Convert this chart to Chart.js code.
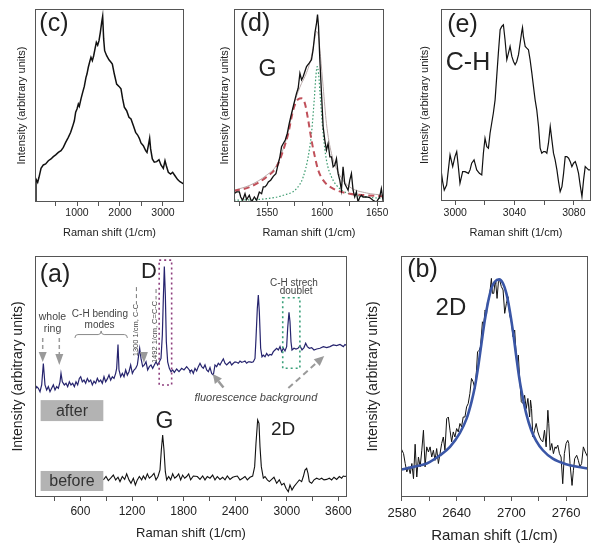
<!DOCTYPE html>
<html><head><meta charset="utf-8">
<script src="https://cdn.jsdelivr.net/npm/chart.js@4.4.1/dist/chart.umd.min.js"></script>
<style>
html,body{margin:0;padding:0;background:#fff;}
#wrap{position:relative;width:601px;height:548px;overflow:hidden;background:#fff;}
canvas{position:absolute;}
</style></head><body><div id="wrap">
<canvas id="pc"></canvas><canvas id="pd"></canvas><canvas id="pe"></canvas><canvas id="pa"></canvas><canvas id="pb"></canvas>
</div>
<script>
// ---------- DATA ----------
// (c) wide-range spectrum
const cX = [23,46,85,116,163,217,271,333,395,449,504,566,628,682,736,798,853,899,938,969,1000,1031,1054,1093,1132,1170,1209,1232,1263,1302,1325,1357,1388,1419,1450,1481,1512,1543,1574,1597,1620,1643,1690,1744,1791,
  1822,1868,1922,1977,2023,2062,2101,2155,2209,2256,2310,2364,2411,2450,2488,2543,2597,2628,2659,2690,2713,2752,2798,2853,2907,2953,3008,3047,3078,3124,3178,3225,3279,3341,3395,3450,3489];
const cY = [0.7,11.9,10.2,12.8,17.4,19.2,19.7,21.4,22.3,23.5,24.4,25.7,26.6,28.3,30.9,33.5,36.1,39.2,42.1,46.5,48.2,50.8,49.6,53.4,56.8,59.9,64.6,66.3,69.8,73.2,75.0,73.2,75.8,79.3,82.7,81.3,83.6,87.9,93.1,96.2,84.5,78.4,75.8,73.7,72.4,
  71.5,66.3,61.1,59.9,58.6,53.4,49.1,47.3,43.9,43.0,39.6,36.1,34.7,33.0,30.6,29.2,26.6,25.7,29.2,33.0,27.5,22.3,20.6,20.9,21.9,19.2,17.4,21.4,18.8,15.4,14.5,15.4,13.6,11.6,10.5,9.8,9.3];
// (d) G band
const dX = [1520.0,1522.4,1524.9,1526.1,1527.9,1530.0,1531.5,1533.9,1536.0,1538.5,1540.6,1543.0,1545.1,1546.6,1548.1,1549.6,1551.2,1553.3,1555.7,1558.1,1560.2,1561.7,1563.2,1564.8,1566.6,1568.4,1570.2,1572.3,1573.8,1575.3,1576.8,1578.3,1579.9,1581.4,1582.9,1584.4,1585.9,1588.3,1590.4,1591.9,1593.5,1595.0,1595.9,1596.8,1598.0,1599.5,1601.0,1602.5,1604.0,1605.5,1607.1,1608.6,1610.1,1611.6,1613.1,1614.6,1616.1,1617.6,1619.1,1620.6,1622.2,1623.7,1625.2,1626.7,1628.2,1629.7,1631.2,1632.7,1634.3,1635.8,1637.3,1640.3,1643.3,1646.3,1649.4,1652.4,1653.9,1655.4,1656.3];
const dY = [4.3,5.2,5.2,2.6,0.9,4.3,1.2,3.5,0,2.6,0.9,5.2,4.3,7.8,7.8,8.7,10.4,11.3,13.3,14.7,19.9,23.4,28.6,30.3,32.1,35.5,40.7,45.9,49.4,52.9,56.3,58.9,66.7,63.3,65,67.6,70.2,71.9,73.7,78.9,87.5,92.7,97.1,91,73.7,56.3,39,32.1,26.9,30.3,23.4,23.4,18.2,19.1,22.5,14.7,11.3,6.1,18.2,9.5,7.8,6.1,11.3,14.7,6.1,2.6,5.2,0,2.6,3.5,2.6,2.6,2.3,0.9,0,2.6,6.9,0.9,1.7];
const dRedX = [1520,1534.5,1549.6,1558.7,1564.8,1569.3,1573.8,1578.3,1581.4,1584.4,1587.4,1590.4,1593.5,1596.5,1601,1610.1,1625.2,1640.3,1656.3];
const dRedY = [5.7,7.8,13,18.2,26.9,35.5,47.7,53.2,53.7,51.1,42.5,32.1,23.4,16.5,11.3,6.9,4.3,3.5,2.9];
const dGreenX = [1520,1549.6,1564.8,1576.8,1582.9,1587.4,1590.4,1592.9,1594.4,1595.6,1596.8,1598.6,1601,1604,1608.6,1616.1,1631.2,1656.3];
const dGreenY = [0.9,1.7,3.5,6.9,13,23.4,35.5,52.9,65,70.2,66.7,52.9,35.5,21.7,13,6.9,3.5,1.7];
const dSumX = [1520,1534.5,1549.6,1558.7,1564.8,1569.3,1573.8,1578.3,1581.4,1584.4,1587.4,1590.4,1592.9,1595,1596.8,1598.6,1601,1604,1608.6,1616.1,1625.2,1640.3,1656.3];
const dSumY = [6.1,8.7,13.9,19.1,27.7,36.4,49,57.2,61.5,65,69.3,75.4,83.2,88.4,85.8,75.4,59.8,40.7,25.1,13.9,7.8,4.7,3.5];
// (e) C-H
const eX = [2990.4,2991.5,2992.6,2994.2,2996.5,2998.3,2999.8,3001.0,3002.1,3003.2,3005.0,3006.6,3008.9,3010.0,3011.1,3012.7,3014.5,3016.3,3017.9,3019.0,3020.1,3021.3,3022.4,3023.5,3024.6,3025.7,3026.9,3028.0,3029.1,3030.3,3031.4,3032.5,3033.6,3034.8,3035.9,3037.0,3038.2,3039.3,3040.4,3041.5,3042.7,3043.8,3044.9,3045.4,3046.0,3047.2,3048.3,3049.4,3050.5,3051.7,3052.8,3053.9,3055.0,3056.2,3057.3,3058.4,3059.6,3060.7,3061.8,3062.9,3064.1,3065.2,3066.3,3067.4,3068.6,3069.7,3070.8,3072.0,3073.1,3074.2,3075.3,3076.5,3077.6,3078.7,3079.8,3081.0,3082.1,3083.2,3084.3,3085.5,3086.6,3087.7,3088.9,3090.0,3091.6];
const eY = [16.2,10.1,5.7,8.3,24.0,17.9,23.1,25.7,17.9,9.2,15.3,15.3,14.4,16.2,19.7,21.4,16.2,14.4,13.6,24.9,32.7,28.3,27.5,35.3,40.5,45.7,52.7,64.9,77.0,89.2,90.9,91.8,84.0,73.6,77.0,80.5,75.3,72.7,71.0,72.7,76.2,82.3,88.3,90.4,85.7,80.5,79.6,78.8,73.6,66.6,59.6,52.7,47.5,38.8,27.5,24.9,25.7,25.7,24.9,30.1,38.8,31.8,24.9,21.4,16.2,10.1,4.9,7.5,14.4,23.1,23.1,22.3,20.5,17.9,19.7,20.5,17.9,14.4,8.3,2.3,11.0,17.9,17.0,16.2,16.2];
// (a) after / before
const aAfterX = [72.0,91.4,110.8,130.2,149.6,169.0,188.3,207.7,227.1,246.5,265.8,285.2,304.6,324.0,343.4,362.7,374.4,389.9,413.1,432.5,451.9,471.3,490.6,510.0,529.4,548.8,568.2,587.5,603.1,622.4,641.8,661.2,680.6,700.0,719.3,738.7,758.1,777.5,796.9,816.2,835.6,855.0,874.4,893.8,913.1,932.5,951.9,971.3,990.7,1010.0,1021.7,1037.2,1048.8,1068.2,1087.6,1107.0,1126.3,1145.7,1165.1,1184.5,1203.8,1223.2,1242.6,1262.0,1277.5,1289.1,1304.6,1324.0,1343.4,1362.7,1382.1,1401.5,1420.9,1440.3,1459.6,1479.0,1498.4,1517.8,1537.2,1552.7,1564.3,1575.9,1587.6,1599.2,1614.7,1634.1,1653.4,1672.8,1692.2,1719.3,1746.5,1777.5,1804.6,1835.6,1866.6,
  1874.3,1893.7,1913.1,1932.4,1951.8,1971.2,1990.6,2010.0,2029.3,2048.7,2068.1,2087.5,2106.9,2126.2,2145.6,2165.0,2184.4,2203.8,2223.1,2242.5,2261.9,2281.3,2300.7,2320.0,2339.4,2358.8,2378.2,2397.6,2416.9,2436.3,2455.7,2475.1,2494.5,2513.8,2533.2,2552.6,2572.0,2591.4,2610.7,2630.1,2641.8,2657.3,2668.9,2680.5,2696.0,2711.5,2727.0,2746.4,2765.8,2785.2,2804.5,2823.9,2843.3,2862.7,2882.1,2901.4,2920.8,2940.2,2959.6,2979.0,2998.3,3010.0,3025.5,3037.1,3048.7,3060.4,3083.6,3106.9,3130.1,3153.4,3176.6,3199.9,3219.3,3238.7,3261.9,3289.0,3316.2,3347.2,3385.9,3424.7,3463.5,3502.2,3541.0,3579.7,3618.5,3657.3,3676.6,3700];
const aAfterY = [44.4,45.8,45.1,43.7,46.5,55.4,46.5,44.4,45.8,43.7,45.1,46.5,44.4,45.8,45.1,47.8,51.3,47.8,46.5,47.2,45.8,47.8,46.5,47.2,45.8,47.8,46.5,49.2,49.9,47.8,48.5,47.2,49.2,47.8,48.5,46.5,48.1,47.2,49.2,47.8,48.5,47.2,49.9,47.8,49.0,50.6,48.5,49.9,49.2,51.3,53.4,63.3,52.7,49.9,51.3,49.9,52.7,50.6,52.0,54.8,51.3,52.7,53.4,54.8,58.9,61.7,57.5,54.1,54.8,56.1,52.7,54.1,54.8,53.4,54.8,56.1,54.8,56.1,57.5,67.2,82.4,95.6,83.8,64.4,56.1,53.4,52.0,52.7,51.7,53.1,52.0,53.4,52.7,54.1,52.7,
  52.0,52.7,51.3,53.4,52.3,54.1,55.5,54.1,53.4,54.8,52.7,52.0,53.7,51.3,50.6,54.8,54.1,55.5,54.8,56.1,57.3,55.5,54.8,55.5,56.1,54.8,55.5,56.1,55.9,55.5,56.4,55.9,56.1,56.4,55.5,56.1,56.1,55.9,56.1,57.5,65.8,78.3,83.8,76.9,61.7,58.2,58.9,58.2,59.6,58.6,59.2,58.9,60.3,61.0,61.7,61.0,62.4,60.3,61.7,60.6,62.4,70.0,76.6,72.7,64.4,61.0,61.7,61.4,61.7,62.8,61.0,62.0,63.8,62.4,61.7,62.0,61.0,61.4,61.7,62.4,62.0,62.4,63.1,62.8,63.3,62.4,63.3,62.8];
const aBeforeX = [866.6,897.6,924.7,951.8,983.0,1010.0,1037.1,1060.4,1087.5,1114.6,1137.9,1165.0,1188.3,1215.4,1238.7,1262.0,1285.2,1312.3,1331.7,1355.0,1378.2,1401.4,1428.6,1455.7,1478.9,1502.2,1525.5,1541.0,1556.5,1572.0,1587.5,1603.0,1626.3,1649.5,1672.8,1696.0,1719.3,1742.5,1765.8,1789.0,1812.3,1835.6,1858.8,1882.1,1913.1,
  1959.6,1990.6,2021.6,2048.7,2075.8,2106.8,2137.8,2165.0,2192.1,2223.1,2254.1,2281.3,2308.4,2339.4,2370.4,2397.5,2424.7,2455.7,2486.7,2513.8,2541.0,2572.0,2603.0,2626.2,2641.7,2661.1,2676.6,2688.2,2703.7,2727.0,2746.4,2773.5,2796.8,2823.9,2851.0,2882.0,2913.0,2940.2,2967.3,2990.6,3017.7,3037.1,3060.3,3083.6,3114.6,3145.6,3172.7,3192.1,3211.5,3230.9,3246.4,3261.9,3289.0,3316.2,3347.2,3378.2,3405.3,3432.4,3463.4,3494.4,3521.6,3548.7,3579.7,3610.7,3637.9,3657.2,3676.6,3696.0];
const aBeforeY = [7.1,8.5,6.8,7.8,9.1,7.1,8.2,6.4,8.5,7.3,9.6,7.1,5.7,7.8,5.0,7.1,8.5,7.1,8.7,7.4,9.6,7.8,8.7,9.8,7.1,8.5,11.2,19.5,25.7,19.5,10.5,7.1,8.5,7.1,9.6,7.8,8.5,9.6,7.1,9.1,7.8,8.5,9.6,7.1,8.7,
  8.5,7.3,8.7,7.1,8.5,7.8,9.1,7.1,8.5,7.3,8.2,7.1,8.7,7.3,8.2,8.5,8.7,7.1,7.8,8.5,7.1,8.2,8.7,12.6,22.3,32.0,30.6,20.9,12.6,7.8,8.5,7.1,6.4,7.3,8.2,5.7,7.1,5.0,5.7,3.6,2.2,5.0,2.9,4.3,5.7,7.1,6.4,8.5,11.2,11.9,9.8,6.4,5.7,7.1,7.8,7.3,7.8,7.1,7.3,7.8,7.1,8.2,7.3,8.5,7.8,8.7,8.5,8.7];
// (b) 2D band
const bX = [2579.2,2581.8,2583.6,2585.4,2587.2,2589.1,2590.9,2592.7,2594.5,2596.3,2598.1,2600.0,2601.8,2603.6,2605.4,2607.2,2609.1,2610.9,2612.7,2614.5,2616.3,2618.1,2620.0,2621.8,2623.6,2625.4,2627.2,2629.1,2630.9,2632.7,2634.5,2636.3,2638.1,2640.0,2641.8,2643.6,2645.4,2647.2,2649.1,2650.9,2652.7,2654.5,2656.3,2658.1,2660.0,2661.8,2662.9,2664.7,2666.1,2668.3,2669.8,2671.2,2672.7,2673.8,2675.2,2676.3,2678.1,2679.2,2680.7,2682.1,2682.9,2684.3,2685.8,2687.2,2689.0,2690.9,2692.7,2694.5,2696.3,2698.1,2700.0,2701.8,2703.6,2705.4,2706.5,2707.6,2709.0,2710.9,2712.7,2714.5,2716.3,2718.1,2720.0,2721.0,2722.1,2723.6,2725.4,2727.2,2729.0,2730.9,2732.7,2734.5,2736.3,2738.1,2740.0,2741.0,2742.5,2744.3,2746.1,2747.9,2749.0,2750.9,2752.7,2754.5,2756.3,2758.1,2760.0,2761.8,2762.9,2764.3,2766.5,2768.0,2769.4,2771.6,2773.4,2775.2,2777.0,2778.9,2781.0,2783.6];
const bY = [20.1,18.0,13.9,10.4,12.5,9.7,13.9,7.6,21.9,8.3,16.6,12.5,19.4,27.7,12.5,20.8,18.7,20.8,16.6,19.4,15.2,20.1,13.9,18.0,22.2,24.9,19.4,32.5,33.2,27.7,22.9,27.0,24.9,28.4,27.0,30.5,29.1,33.2,33.2,37.4,38.8,42.9,49.2,47.8,45.0,52.6,60.2,60.9,62.3,72.7,72.0,77.6,75.5,81.0,81.7,84.5,90.7,84.5,84.5,89.3,88.6,82.4,89.3,90.0,87.3,85.9,76.2,80.3,83.1,75.5,72.7,66.5,69.3,58.2,55.4,58.9,49.9,39.5,38.8,42.2,36.7,40.9,33.2,40.2,36.7,24.9,27.7,30.5,27.0,24.9,23.5,22.9,27.7,20.8,36.0,30.5,19.4,22.2,18.0,20.8,20.1,21.5,18.0,16.6,5.5,18.0,22.2,23.5,22.2,13.9,4.8,11.1,15.9,17.3,15.2,12.5,13.9,20.8,18.7,16.6];
const bFitX = [2579.2,2592.7,2607.2,2621.8,2632.7,2643.6,2650.9,2656.3,2660.0,2663.6,2667.2,2670.9,2674.5,2678.1,2681.8,2686.5,2690.9,2694.5,2698.1,2701.8,2705.4,2709.0,2712.7,2716.3,2721.8,2727.2,2734.5,2745.4,2760.0,2783.6];
const bFitY = [11.4,12.5,13.9,17.3,20.8,26.6,32.5,39.5,45.7,54.0,63.7,73.4,81.0,86.6,89.3,90.3,88.6,84.5,77.6,68.6,58.2,48.5,40.9,34.6,27.7,23.3,19.4,15.9,13.6,11.8];
// tick positions and labels
const cTicks = [500,1000,1500,2000,2500,3000];   const cLabels = [1000,2000,3000];
const dTicks = [1525,1550,1575,1600,1625,1650];  const dLabels = [1550,1600,1650];
const eTicks = [3000,3020,3040,3060,3080];       const eLabels = [3000,3040,3080];
const aTicks = [300,600,900,1200,1500,1800,2100,2400,2700,3000,3300,3600]; const aLabels = [600,1200,1800,2400,3000,3600];
const bTicks = [2580,2610,2640,2670,2700,2730,2760]; const bLabels = [2580,2640,2700,2760];
const X_TITLE = 'Raman shift (1/cm)';
const Y_TITLE = 'Intensity (arbitrary units)';

// ---------- RENDERING ----------
const FONT = "'Liberation Sans', Arial, Helvetica, sans-serif";
Chart.defaults.font.family = FONT;
Chart.defaults.color = '#222';
const PADT = 2;

function pts(xs, ys){ return xs.map((x,i)=>({x:x, y:ys[i]})); }

const framePlugin = { id:'frame', afterDatasetsDraw(chart){
  const a = chart.chartArea, ctx = chart.ctx;
  ctx.save(); ctx.strokeStyle = '#555'; ctx.lineWidth = 1;
  ctx.strokeRect(Math.round(a.left)+0.5, Math.round(a.top)+0.5, Math.round(a.right-a.left)-1, Math.round(a.bottom-a.top)-1);
  ctx.restore();
}};

function arrowDraw(ctx, x1,y1,x2,y2,o){
  const ang = Math.atan2(y2-y1, x2-x1), hl=o.hl||9, hw=o.hw||8;
  const bx = x2 - hl*Math.cos(ang), by = y2 - hl*Math.sin(ang);
  ctx.save(); ctx.strokeStyle=o.color; ctx.fillStyle=o.color; ctx.lineWidth=o.lw||1.5;
  ctx.setLineDash(o.dash||[]);
  const len = Math.hypot(x2-x1, y2-y1);
  if (len > hl + 0.5) {
    ctx.beginPath(); ctx.moveTo(x1,y1); ctx.lineTo(bx,by); ctx.stroke();
  }
  ctx.setLineDash([]);
  ctx.beginPath(); ctx.moveTo(x2,y2);
  ctx.lineTo(bx + hw/2*Math.sin(ang), by - hw/2*Math.cos(ang));
  ctx.lineTo(bx - hw/2*Math.sin(ang), by + hw/2*Math.cos(ang));
  ctx.closePath(); ctx.fill(); ctx.restore();
}

function notesPlugin(notes){ return { id:'notes', afterDraw(chart){
  const a = chart.chartArea, ctx = chart.ctx;
  const X = f => a.left + f*(a.right-a.left), Y = f => a.top + f*(a.bottom-a.top);
  notes.forEach(n => {
    ctx.save();
    if (n.k === 't') {
      ctx.font = (n.style||'normal') + ' ' + n.size + 'px ' + FONT;
      ctx.fillStyle = n.color || '#222'; ctx.textAlign = 'center'; ctx.textBaseline = 'middle';
      ctx.translate(X(n.x), Y(n.y)); if (n.rot) ctx.rotate(n.rot);
      ctx.fillText(n.s, 0, 0);
    } else if (n.k === 'rect') {
      ctx.strokeStyle = n.color; ctx.lineWidth = n.lw||1.5; ctx.setLineDash(n.dash||[]);
      ctx.strokeRect(X(n.x1), Y(n.y1), X(n.x2)-X(n.x1), Y(n.y2)-Y(n.y1));
    } else if (n.k === 'box') {
      ctx.fillStyle = n.fill; ctx.fillRect(X(n.x1), Y(n.y1), X(n.x2)-X(n.x1), Y(n.y2)-Y(n.y1));
      ctx.font = n.size + 'px ' + FONT; ctx.fillStyle = n.color; ctx.textAlign='center'; ctx.textBaseline='middle';
      ctx.fillText(n.s, (X(n.x1)+X(n.x2))/2, (Y(n.y1)+Y(n.y2))/2 + 0.5);
    } else if (n.k === 'line') {
      ctx.strokeStyle = n.color; ctx.lineWidth = n.lw||1; ctx.setLineDash(n.dash||[]);
      ctx.beginPath(); ctx.moveTo(X(n.x1), Y(n.y1)); ctx.lineTo(X(n.x2), Y(n.y2)); ctx.stroke();
    } else if (n.k === 'arrow') {
      arrowDraw(ctx, X(n.x1), Y(n.y1), X(n.x2), Y(n.y2), n);
    } else if (n.k === 'brace') {
      const x1 = X(n.x1), x2 = X(n.x2), xm = (x1+x2)/2, ye = Y(n.ye), yf = Y(n.yf), yt = Y(n.yt), r = 3;
      ctx.strokeStyle = n.color; ctx.lineWidth = 1;
      ctx.beginPath(); ctx.moveTo(x1, ye); ctx.quadraticCurveTo(x1, yf, x1+r, yf); ctx.lineTo(xm-r, yf);
      ctx.quadraticCurveTo(xm, yf, xm, yt); ctx.quadraticCurveTo(xm, yf, xm+r, yf); ctx.lineTo(x2-r, yf);
      ctx.quadraticCurveTo(x2, yf, x2, ye); ctx.stroke();
    }
    ctx.restore();
  });
}}; }

function panel(id, g, datasets, xc, notes){
  const cv = document.getElementById(id);
  const W = g.R - g.L + g.wy + g.pr, H = g.B - g.T + PADT + g.hx;
  cv.width = W; cv.height = H;
  cv.style.left = (g.L - g.wy) + 'px'; cv.style.top = (g.T - PADT) + 'px';
  cv.style.width = W + 'px'; cv.style.height = H + 'px';
  new Chart(cv, {
    type: 'line',
    data: { datasets: datasets },
    options: {
      responsive: false, animation: false, devicePixelRatio: 1,
      layout: { padding: { top: PADT, right: g.pr, left: 0, bottom: 0 } },
      plugins: { legend: { display: false }, tooltip: { enabled: false } },
      elements: { point: { radius: 0 }, line: { tension: 0 } },
      scales: {
        x: {
          type: 'linear', bounds: 'data', min: xc.min, max: xc.max,
          afterBuildTicks: s => { s.ticks = xc.ticks.map(v => ({ value: v })); },
          ticks: { autoSkip: false, maxRotation: 0, minRotation: 0, padding: xc.tpad,
                   font: { size: xc.tsize }, color: '#222',
                   callback: v => xc.labels.includes(v) ? String(v) : '' },
          grid: { display: true, drawOnChartArea: false, drawTicks: true, tickLength: 4, color: '#555' },
          border: { display: false },
          title: { display: true, text: X_TITLE, font: { size: xc.xtsize }, color: '#222', padding: { top: 0, bottom: xc.xtpad } },
          afterFit: s => { s.height = g.hx; s.paddingLeft = 0; s.paddingRight = 0; }
        },
        y: {
          type: 'linear', min: 0, max: 100,
          ticks: { display: false }, grid: { display: false }, border: { display: false },
          title: { display: true, text: Y_TITLE, font: { size: xc.ytsize }, color: '#222', padding: { top: xc.ytpad, bottom: 0 } },
          afterFit: s => { s.width = g.wy; s.paddingTop = 0; s.paddingBottom = 0; }
        }
      }
    },
    plugins: [framePlugin, notesPlugin(notes)]
  });
}

const GRAY = '#9a9a9a', TXT = '#444';

// (c)
panel('pc', {L:35, T:9, R:184, B:202, wy:35, hx:40, pr:3}, [
  { data: pts(cX, cY), borderColor: '#111', borderWidth: 1.5 }
], { min:23, max:3489, ticks:cTicks, labels:cLabels, tsize:10.5, tpad:1, xtsize:11, xtpad:2.4, ytsize:11, ytpad:15.4 },
[ { k:'t', s:'(c)', x:0.127, y:0.078, size:25 } ]);

// (d)
panel('pd', {L:234, T:9, R:384, B:202, wy:20, hx:40, pr:14}, [
  { data: pts(dX, dY), borderColor: '#111', borderWidth: 1.3 },
  { data: pts(dRedX, dRedY), borderColor: '#c0505a', borderWidth: 2, borderDash: [6,4], cubicInterpolationMode: 'monotone' },
  { data: pts(dGreenX, dGreenY), borderColor: '#3a9a6e', borderWidth: 1.2, borderDash: [1.5,2], cubicInterpolationMode: 'monotone' },
  { data: pts(dSumX, dSumY), borderColor: '#b9a9a9', borderWidth: 1, cubicInterpolationMode: 'monotone' }
], { min:1520, max:1656.3, ticks:dTicks, labels:dLabels, tsize:10, tpad:1, xtsize:11, xtpad:2.4, ytsize:11, ytpad:4.4 },
[ { k:'t', s:'(d)', x:0.14, y:0.078, size:25 }, { k:'t', s:'G', x:0.223, y:0.313, size:23 } ]);

// (e)
panel('pe', {L:441, T:9, R:591, B:201, wy:24, hx:41, pr:3}, [
  { data: pts(eX, eY), borderColor: '#111', borderWidth: 1.2 }
], { min:2990.4, max:3091.6, ticks:eTicks, labels:eLabels, tsize:10.5, tpad:1.5, xtsize:11, xtpad:2.4, ytsize:11, ytpad:1.4 },
[ { k:'t', s:'(e)', x:0.143, y:0.083, size:25 }, { k:'t', s:'C-H', x:0.18, y:0.284, size:25 } ]);

// (a)
panel('pa', {L:35, T:256, R:347, B:497, wy:35, hx:48, pr:12}, [
  { data: pts(aAfterX, aAfterY), borderColor: '#26246e', borderWidth: 1.2 },
  { data: pts(aBeforeX, aBeforeY), borderColor: '#111', borderWidth: 1.1 }
], { min:72, max:3700, ticks:aTicks, labels:aLabels, tsize:12, tpad:3.8, xtsize:13, xtpad:4.2, ytsize:14, ytpad:9.6 },
[
  { k:'t', s:'(a)', x:0.064, y:0.079, size:25 },
  { k:'t', s:'D', x:0.365, y:0.066, size:22 },
  { k:'t', s:'whole', x:0.056, y:0.255, size:10.5, color:TXT },
  { k:'t', s:'ring', x:0.056, y:0.303, size:10.5, color:TXT },
  { k:'arrow', x1:0.0247, y1:0.340, x2:0.0247, y2:0.440, color:GRAY, lw:1.5, dash:[4,3], hl:10, hw:8 },
  { k:'arrow', x1:0.0779, y1:0.340, x2:0.0779, y2:0.452, color:GRAY, lw:1.5, dash:[4,3], hl:11, hw:8 },
  { k:'t', s:'C-H bending', x:0.208, y:0.241, size:10, color:TXT },
  { k:'t', s:'modes', x:0.207, y:0.288, size:10, color:TXT },
  { k:'brace', x1:0.128, x2:0.296, ye:0.340, yf:0.326, yt:0.311, color:'#888' },
  { k:'t', s:'1300 1/cm, C-C', x:0.325, y:0.307, size:7.5, color:TXT, rot:-Math.PI/2 },
  { k:'line', x1:0.325, y1:0.129, x2:0.325, y2:0.200, color:'#777', dash:[4,3] },
  { k:'arrow', x1:0.349, y1:0.398, x2:0.349, y2:0.444, color:GRAY, hl:11, hw:8 },
  { k:'t', s:'1492 1/cm, C=C-C', x:0.386, y:0.315, size:7.5, color:TXT, rot:-Math.PI/2 },
  { k:'line', x1:0.388, y1:0.137, x2:0.388, y2:0.180, color:'#777', dash:[4,3] },
  { k:'rect', x1:0.398, y1:0.017, x2:0.438, y2:0.535, color:'#8e3f7e', dash:[2,3], lw:1.6 },
  { k:'rect', x1:0.794, y1:0.173, x2:0.849, y2:0.466, color:'#3aa07a', dash:[2,3], lw:1.6 },
  { k:'t', s:'C-H strech', x:0.830, y:0.114, size:10, color:TXT },
  { k:'t', s:'doublet', x:0.837, y:0.147, size:10, color:TXT },
  { k:'t', s:'fluorescence background', x:0.708, y:0.587, size:11, color:TXT, style:'italic' },
  { k:'arrow', x1:0.604, y1:0.546, x2:0.570, y2:0.490, color:GRAY, lw:2.5, hl:9, hw:9 },
  { k:'arrow', x1:0.812, y1:0.548, x2:0.927, y2:0.415, color:GRAY, lw:2, dash:[6,4], hl:10, hw:9 },
  { k:'box', s:'after', x1:0.018, y1:0.598, x2:0.219, y2:0.685, fill:'#b3b3b3', size:16, color:'#333' },
  { k:'box', s:'before', x1:0.018, y1:0.892, x2:0.219, y2:0.975, fill:'#b3b3b3', size:16, color:'#333' },
  { k:'t', s:'G', x:0.415, y:0.687, size:23 },
  { k:'t', s:'2D', x:0.795, y:0.722, size:19 }
]);

// (b)
panel('pb', {L:401, T:256, R:588, B:497, wy:40, hx:48, pr:3}, [
  { data: pts(bFitX, bFitY), borderColor: '#3a56a6', borderWidth: 2.6, cubicInterpolationMode: 'monotone' },
  { data: pts(bX, bY), borderColor: '#111', borderWidth: 1 }
], { min:2579, max:2784, ticks:bTicks, labels:bLabels, tsize:13, tpad:4.2, xtsize:15, xtpad:0, ytsize:14, ytpad:3.6 },
[ { k:'t', s:'(b)', x:0.115, y:0.058, size:25 }, { k:'t', s:'2D', x:0.267, y:0.216, size:24 } ]);
</script></body></html>
